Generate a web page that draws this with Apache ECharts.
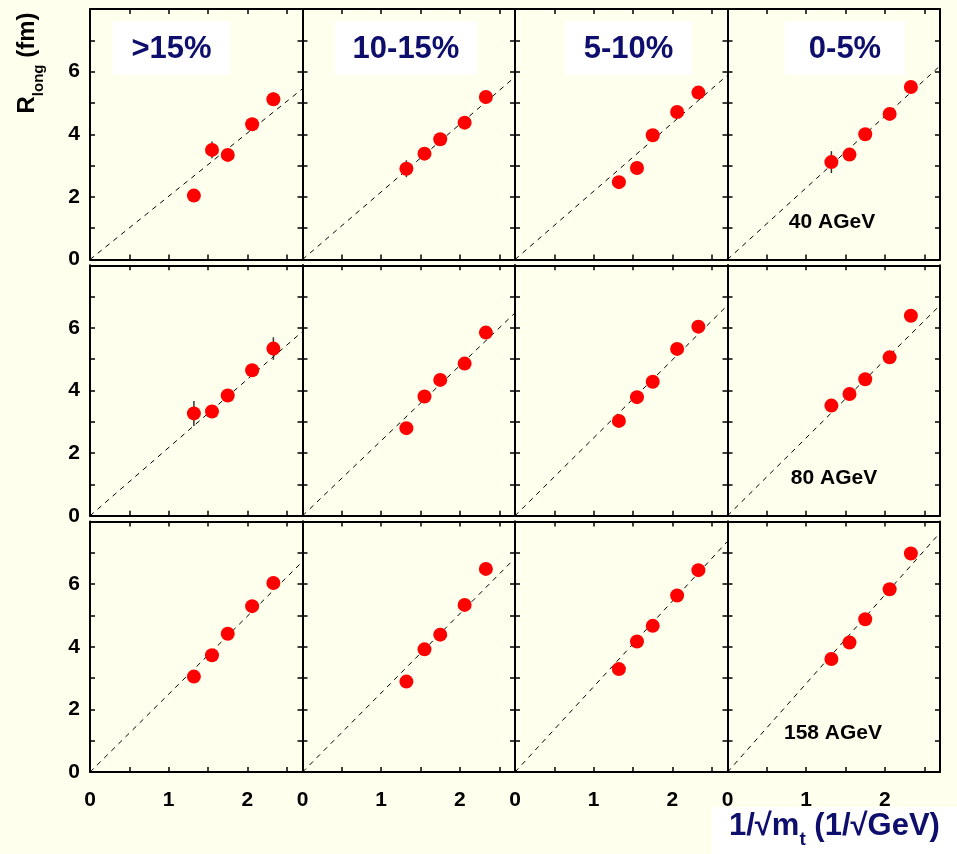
<!DOCTYPE html>
<html><head><meta charset="utf-8">
<script src="https://cdn.jsdelivr.net/npm/echarts@6/dist/echarts.min.js"></script>
<style>html,body{margin:0;padding:0;background:#ffffee;}#c{width:957px;height:854px;}</style>
</head><body><div id="c"></div>
<script>
// ---- data ----
const centralities = ['>15%', '10-15%', '5-10%', '0-5%'];
const energies = ['40 AGeV', '80 AGeV', '158 AGeV'];
const invSqrtMt = [1.32, 1.55, 1.75, 2.06, 2.33];
const xTickLabels = ['0', '1', '2'];
const yTickLabels = ['0', '2', '4', '6'];
// R_long (fm), one array per centrality bin
const rlong40 = [
  [2.04, 3.50, 3.34, 4.32, 5.12],
  [2.90, 3.38, 3.84, 4.37, 5.19],
  [2.47, 2.92, 3.97, 4.71, 5.33],
  [3.11, 3.35, 4.00, 4.65, 5.51]
];
const rlong80 = [
  [3.27, 3.33, 3.84, 4.65, 5.34],
  [2.80, 3.81, 4.34, 4.86, 5.85],
  [3.03, 3.79, 4.28, 5.33, 6.04],
  [3.52, 3.89, 4.36, 5.06, 6.39]
];
const rlong158 = [
  [3.05, 3.73, 4.42, 5.30, 6.04],
  [2.89, 3.92, 4.39, 5.34, 6.49],
  [3.29, 4.17, 4.67, 5.64, 6.45],
  [3.61, 4.14, 4.88, 5.84, 6.98]
];
const err40 = [
  [0.15, 0.27, 0.15, 0.15, 0.22],
  [0.27, 0.15, 0.15, 0.15, 0.20],
  [0.15, 0.15, 0.15, 0.15, 0.15],
  [0.35, 0.15, 0.15, 0.15, 0.15]
];
const err80 = [
  [0.40, 0.20, 0.15, 0.15, 0.36],
  [0.15, 0.15, 0.15, 0.15, 0.15],
  [0.15, 0.15, 0.15, 0.15, 0.15],
  [0.15, 0.15, 0.15, 0.15, 0.15]
];
const err158 = [
  [0.15, 0.15, 0.15, 0.15, 0.15],
  [0.15, 0.15, 0.15, 0.15, 0.15],
  [0.15, 0.15, 0.15, 0.15, 0.15],
  [0.15, 0.15, 0.15, 0.15, 0.15]
];
// slopes of the dashed lines through the origin (fm per 1/sqrt(GeV))
const fitSlope40 = [2.02, 2.16, 2.18, 2.29];
const fitSlope80 = [2.18, 2.40, 2.49, 2.49];
const fitSlope158 = [2.49, 2.53, 2.73, 2.83];
const X_MAX = 2.7, Y_MAX = 8;

const rlong = [rlong40, rlong80, rlong158];
const errs = [err40, err80, err158];
const slopes = [fitSlope40, fitSlope80, fitSlope158];

// ---- layout ----
const FONT = '"Liberation Sans", Arial, sans-serif';
const NAVY = '#0e0e6c';
const gLeft = 90, gW = 212.5, gTop = 9, gStep = 256.3, gH = 250.5;

const grids = [], xAxes = [], yAxes = [], series = [];
const axisLine = {show: true, onZero: false, lineStyle: {color: '#000', width: 2}};
const tick = {show: true, inside: true, length: 5, lineStyle: {color: '#000', width: 1.5}};
const lblStyle = {color: '#000', fontSize: 21, fontWeight: 'bold', fontFamily: FONT};

for (let r = 0; r < 3; r++) {
  for (let c = 0; c < 4; c++) {
    const i = r * 4 + c;
    grids.push({left: gLeft + c * gW, top: gTop + r * gStep, width: gW, height: gH, containLabel: false});
    xAxes.push({
      type: 'value', gridIndex: i, position: 'bottom', min: 0, max: X_MAX, interval: 0.5,
      axisLine, axisTick: tick, splitLine: {show: false},
      axisLabel: Object.assign({
        show: r === 2, margin: 18, showMaxLabel: false,
        formatter: v => (Number.isInteger(v) && xTickLabels.includes(String(v))) ? String(v) : ''
      }, lblStyle)
    });
    xAxes.push({
      type: 'value', gridIndex: i, position: 'top', min: 0, max: X_MAX, interval: 0.5,
      axisLine, axisTick: tick, splitLine: {show: false}, axisLabel: {show: false}
    });
    yAxes.push({
      type: 'value', gridIndex: i, position: 'left', min: 0, max: Y_MAX, interval: 1,
      axisLine, axisTick: tick, splitLine: {show: false},
      axisLabel: Object.assign({
        show: c === 0, margin: 10, showMaxLabel: false,
        formatter: v => yTickLabels.includes(String(v)) ? String(v) : ''
      }, lblStyle)
    });
    yAxes.push({
      type: 'value', gridIndex: i, position: 'right', min: 0, max: Y_MAX, interval: 1,
      axisLine, axisTick: tick, splitLine: {show: false}, axisLabel: {show: false}
    });
    const xi = 2 * i, yi = 2 * i;
    series.push({
      type: 'line', xAxisIndex: xi, yAxisIndex: yi, silent: true, symbol: 'none', z: 2,
      data: [[0, 0], [X_MAX, slopes[r][c] * X_MAX]],
      lineStyle: {color: '#000', width: 1, type: [5, 5]}
    });
    series.push({
      type: 'custom', xAxisIndex: xi, yAxisIndex: yi, silent: true, z: 3,
      data: invSqrtMt.map((x, k) => [x, rlong[r][c][k], errs[r][c][k]]),
      encode: {x: 0, y: 1},
      renderItem: (params, api) => {
        const x = api.value(0), y = api.value(1), e = api.value(2);
        const p1 = api.coord([x, y - e]), p2 = api.coord([x, y + e]);
        return {type: 'line', shape: {x1: p1[0], y1: p1[1], x2: p2[0], y2: p2[1]},
          style: {stroke: '#333', lineWidth: 1.5}};
      }
    });
    series.push({
      type: 'scatter', xAxisIndex: xi, yAxisIndex: yi, silent: true, z: 6,
      symbol: 'circle', symbolSize: 14,
      itemStyle: {color: '#ff0000', opacity: 1},
      data: invSqrtMt.map((x, k) => [x, rlong[r][c][k]])
    });
  }
}

// ---- annotations ----
const boxes = [[113, 117], [335, 142], [565, 127], [785, 120]];
const graphic = [];
centralities.forEach((t, c) => {
  const [bx, bw] = boxes[c];
  graphic.push({type: 'rect', left: bx, top: 21, shape: {width: bw, height: 54}, style: {fill: '#ffffff'}, z: 10});
  graphic.push({type: 'text', x: bx + bw / 2, y: 49, z: 11,
    style: {text: t, fill: NAVY, font: 'bold 31px ' + FONT, textAlign: 'center', textVerticalAlign: 'middle'}});
});
const eLabelPos = [[832, 222], [834, 478], [833, 733]];
energies.forEach((t, r) => {
  graphic.push({type: 'text', x: eLabelPos[r][0], y: eLabelPos[r][1], z: 11,
    style: {text: t, fill: '#000', font: 'bold 21px ' + FONT, textAlign: 'center', textVerticalAlign: 'middle'}});
});
// y-axis title
graphic.push({type: 'text', x: 31, y: 63, rotation: Math.PI / 2, z: 11,
  style: {
    text: '{a|R}{s|long}{a| (fm)}', textAlign: 'center', textVerticalAlign: 'middle',
    rich: {
      a: {fontSize: 24, fontWeight: 'bold', fontFamily: FONT, fill: '#000', color: '#000', padding: [0, 0, 7, 0], verticalAlign: 'top'},
      s: {fontSize: 15, fontWeight: 'bold', fontFamily: FONT, fill: '#000', color: '#000', verticalAlign: 'bottom'}
    }
  }});
// x-axis title
graphic.push({type: 'rect', left: 712, top: 807, shape: {width: 245, height: 47}, style: {fill: '#ffffff'}, z: 10});
graphic.push({type: 'text', x: 729, y: 830, z: 11,
  style: {
    text: '{a|1/√m}{s|t}{a| (1/√GeV)}', textAlign: 'left', textVerticalAlign: 'middle',
    rich: {
      a: {fontSize: 31, fontWeight: 'bold', fontFamily: FONT, fill: NAVY, color: NAVY, padding: [0, 0, 8, 0], verticalAlign: 'top'},
      s: {fontSize: 19, fontWeight: 'bold', fontFamily: FONT, fill: NAVY, color: NAVY, verticalAlign: 'bottom'}
    }
  }});

const chart = echarts.init(document.getElementById('c'), null, {renderer: 'canvas'});
chart.setOption({
  backgroundColor: '#ffffee',
  animation: false,
  grid: grids, xAxis: xAxes, yAxis: yAxes, series, graphic
});
</script></body></html>
